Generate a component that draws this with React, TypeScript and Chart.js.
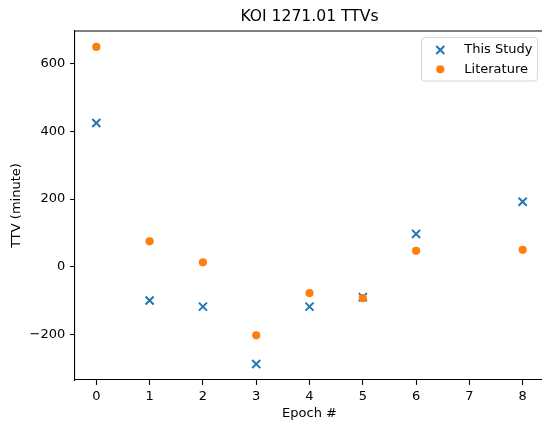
import React, { useEffect, useRef } from "react";
import { Chart, registerables } from "chart.js";

Chart.register(...registerables);

const epochsStudy = [0, 1, 2, 3, 4, 5, 6, 8];
const ttvStudy = [425, -100, -118, -288, -118, -90, 97, 192];
const epochsLit = [0, 1, 2, 3, 4, 5, 6, 8];
const ttvLit = [650, 75, 13, -203, -78, -93, 47, 50];
const xTicks = [0, 1, 2, 3, 4, 5, 6, 7, 8];
const yTicks = [-200, 0, 200, 400, 600];

const FONT = "'DejaVu Sans', sans-serif";
const FS = 13;

const framePlugin = {
  id: "frame",
  afterDraw(chart: any) {
    const { ctx, chartArea: a } = chart;
    ctx.save();
    ctx.strokeStyle = "#000";
    ctx.lineWidth = 1.1;
    ctx.beginPath();
    ctx.moveTo(a.left, a.top);
    ctx.lineTo(a.right, a.top);
    ctx.lineTo(a.right, a.bottom);
    ctx.stroke();
    ctx.restore();
  },
};

const legendPlugin = {
  id: "mplLegend",
  afterDraw(chart: any) {
    const { ctx } = chart;
    const x0 = 421.5, y0 = 37.5, w = 116, h = 43.5, r = 3;
    ctx.save();
    ctx.beginPath();
    ctx.moveTo(x0 + r, y0);
    ctx.lineTo(x0 + w - r, y0);
    ctx.arcTo(x0 + w, y0, x0 + w, y0 + r, r);
    ctx.lineTo(x0 + w, y0 + h - r);
    ctx.arcTo(x0 + w, y0 + h, x0 + w - r, y0 + h, r);
    ctx.lineTo(x0 + r, y0 + h);
    ctx.arcTo(x0, y0 + h, x0, y0 + h - r, r);
    ctx.lineTo(x0, y0 + r);
    ctx.arcTo(x0, y0, x0 + r, y0, r);
    ctx.closePath();
    ctx.fillStyle = "rgba(255,255,255,0.8)";
    ctx.fill();
    ctx.strokeStyle = "#d6d6d6";
    ctx.lineWidth = 1;
    ctx.stroke();
    const rows = [50, 69.3];
    chart.data.datasets.forEach((ds: any, i: number) => {
      const cy = rows[i];
      const cx = 440.3;
      ctx.strokeStyle = ds.borderColor;
      ctx.fillStyle = ds.backgroundColor;
      if (ds.pointStyle === "crossRot") {
        const d = ds.pointRadius * Math.SQRT1_2;
        ctx.lineWidth = ds.borderWidth;
        ctx.beginPath();
        ctx.moveTo(cx - d, cy - d);
        ctx.lineTo(cx + d, cy + d);
        ctx.moveTo(cx - d, cy + d);
        ctx.lineTo(cx + d, cy - d);
        ctx.stroke();
      } else {
        ctx.beginPath();
        ctx.arc(cx, cy, ds.pointRadius, 0, Math.PI * 2);
        ctx.fill();
      }
      ctx.fillStyle = "#000";
      ctx.font = `${FS}px ${FONT}`;
      ctx.textBaseline = "middle";
      ctx.textAlign = "left";
      ctx.fillText(ds.label, 464.3, cy);
    });
    ctx.restore();
  },
};

const fmt = (v: number) => (v < 0 ? "\u2212" + Math.abs(v) : String(v));

export default function App() {
  const ref = useRef<HTMLCanvasElement>(null);
  useEffect(() => {
    const chart = new Chart(ref.current!, {
      type: "scatter",
      data: {
        datasets: [
          {
            label: "This Study",
            data: epochsStudy.map((x, i) => ({ x, y: ttvStudy[i] })),
            pointStyle: "crossRot",
            pointRadius: 5.7,
            borderWidth: 2,
            borderColor: "#1f77b4",
            backgroundColor: "#1f77b4",
            order: 1,
          },
          {
            label: "Literature",
            data: epochsLit.map((x, i) => ({ x, y: ttvLit[i] })),
            pointStyle: "circle",
            pointRadius: 4.1,
            borderWidth: 0,
            borderColor: "#ff7f0e",
            backgroundColor: "#ff7f0e",
            order: 0,
          },
        ],
      } as any,
      options: {
        animation: false,
        responsive: false,
        maintainAspectRatio: false,
        layout: { padding: { top: 0, right: 8, bottom: 0, left: 0 } },
        plugins: {
          legend: { display: false },
          tooltip: { enabled: false },
          title: {
            display: true,
            text: "KOI 1271.01 TTVs",
            fullSize: false,
            color: "#000",
            font: { family: FONT, size: 15.6, weight: "normal", lineHeight: 1.2 },
            padding: { top: 7.2, bottom: 5.1 },
          },
        },
        scales: {
          x: {
            type: "linear",
            min: -0.4,
            max: 8.4,
            afterFit: (s: any) => { s.height = 42; },
            afterBuildTicks: (s: any) => { s.ticks = xTicks.map((v) => ({ value: v })); },
            ticks: {
              color: "#000",
              font: { family: FONT, size: FS },
              padding: 3.5,
              maxRotation: 0,
              callback: (v: any) => fmt(Number(v)),
            },
            grid: {
              drawOnChartArea: false,
              drawTicks: true,
              tickLength: 4.9,
              tickColor: "#000",
              tickWidth: 1.1,
            },
            border: { display: true, color: "#000", width: 1.1 },
            title: {
              display: true,
              text: "Epoch #",
              color: "#000",
              font: { family: FONT, size: FS, lineHeight: 1.2 },
              padding: { top: 0, bottom: 0.4 },
            },
          },
          y: {
            type: "linear",
            min: -335,
            max: 697,
            afterFit: (s: any) => { s.width = 75; },
            afterBuildTicks: (s: any) => { s.ticks = yTicks.map((v) => ({ value: v })); },
            ticks: {
              color: "#000",
              font: { family: FONT, size: FS },
              padding: 4.9,
              callback: (v: any) => fmt(Number(v)),
            },
            grid: {
              drawOnChartArea: false,
              drawTicks: true,
              tickLength: 4.9,
              tickColor: "#000",
              tickWidth: 1.1,
            },
            border: { display: true, color: "#000", width: 1.1 },
            title: {
              display: true,
              text: "TTV (minute)",
              color: "#000",
              font: { family: FONT, size: FS, lineHeight: 1.2 },
              padding: { top: 8.7, bottom: 0 },
            },
          },
        },
      } as any,
      plugins: [framePlugin, legendPlugin],
    });
    return () => chart.destroy();
  }, []);
  return (
    <div style={{ position: "fixed", left: 0, top: 0, width: 552, height: 422, background: "#fff" }}>
      <canvas ref={ref} width={552} height={422} style={{ width: 552, height: 422 }} />
    </div>
  );
}
